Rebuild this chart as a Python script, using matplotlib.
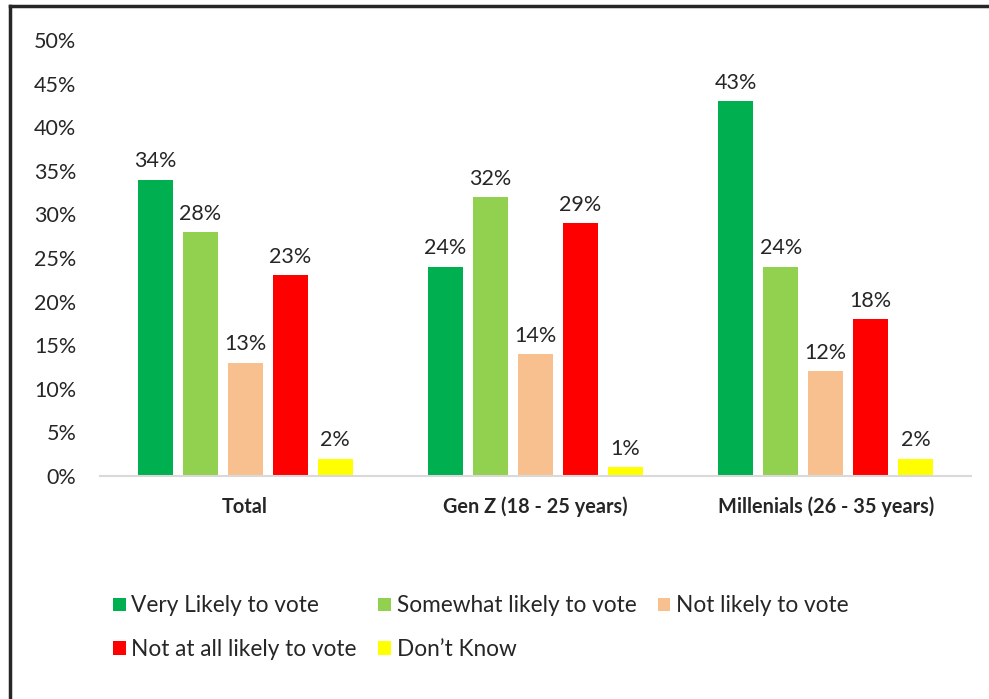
import matplotlib.pyplot as plt
import numpy as np
from matplotlib.lines import Line2D

# --- data ---
groups = ["Total", "Gen Z (18 - 25 years)", "Millenials (26 - 35 years)"]
series = ["Very Likely to vote", "Somewhat likely to vote", "Not likely to vote",
          "Not at all likely to vote", "Don\u2019t Know"]
very_likely = [34, 24, 43]
somewhat_likely = [28, 32, 24]
not_likely = [13, 14, 12]
not_at_all = [23, 29, 18]
dont_know = [2, 1, 2]
values = [very_likely, somewhat_likely, not_likely, not_at_all, dont_know]
colors = ["#00B050", "#92D050", "#F9C08F", "#FF0000", "#FFFF00"]
yticks = [0, 5, 10, 15, 20, 25, 30, 35, 40, 45, 50]

plt.rcParams["font.family"] = ["Lato", "DejaVu Sans"]
txt = "#262626"

fig = plt.figure(figsize=(9.89, 6.99), dpi=100)
ax = fig.add_axes([100 / 989, 1 - 476 / 699, 871 / 989, 436 / 699])

x = np.arange(len(groups))
width = 0.12
step = 0.155
bars = []
for i, (vals, col) in enumerate(zip(values, colors)):
    b = ax.bar(x + (i - 2) * step, vals, width, color=col, label=series[i])
    bars.append(b)
    for rect, v in zip(b, vals):
        ax.annotate(f"{v}%", (rect.get_x() + rect.get_width() / 2, v),
                    xytext=(0, 6), textcoords="offset points",
                    ha="center", va="bottom", fontsize=15.5, color=txt)

ax.set_xlim(-0.5, 2.5)
ax.set_ylim(0, 50)
ax.set_yticks(yticks)
ax.set_yticklabels([f"{t}%" for t in yticks], fontsize=15.5, color=txt)
ax.set_xticks(x)
ax.set_xticklabels(groups, fontsize=14.3, fontweight="bold", color=txt)
ax.tick_params(length=0)
ax.tick_params(axis="x", pad=15)
ax.tick_params(axis="y", pad=17)
for s in ["top", "right", "left"]:
    ax.spines[s].set_visible(False)
ax.spines["bottom"].set_color("#D9D9D9")
ax.spines["bottom"].set_linewidth(1.5)

# legend laid out column-major so rows read left to right
order = [0, 3, 1, 4, 2]
handles = [bars[i] for i in order]
labels = [series[i] for i in order]
fig.legend(handles, labels, ncol=3, loc="upper left", bbox_to_anchor=(93 / 989, 1 - 575 / 699),
           frameon=False, fontsize=16.3, handlelength=0.55, handleheight=0.55,
           handletextpad=0.25, columnspacing=0.95, labelspacing=1.0,
           labelcolor=txt)

# frame around the chart area
fig.add_artist(Line2D([10 / 989, 1], [1 - 6 / 699] * 2, color="#262626", lw=2.5))
fig.add_artist(Line2D([10 / 989] * 2, [0, 1 - 6 / 699], color="#262626", lw=2.5))

fig.savefig("out.png", dpi=100)
